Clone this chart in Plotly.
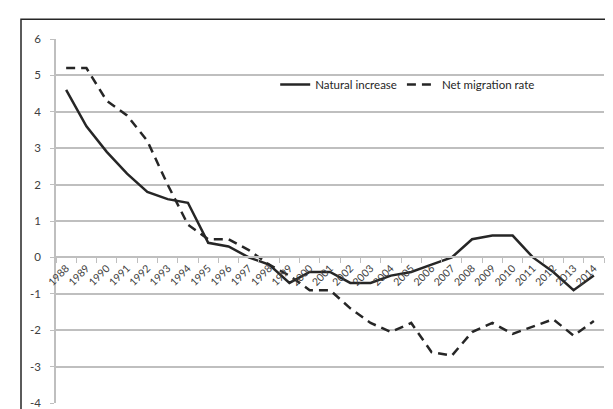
import plotly.graph_objects as go

years = [str(y) for y in range(1988, 2015)]
natural_increase = [4.6, 3.6, 2.9, 2.3, 1.8, 1.6, 1.5, 0.4, 0.3, 0.0, -0.2, -0.7, -0.4,
                    -0.4, -0.7, -0.7, -0.5, -0.4, -0.2, 0.0, 0.5, 0.6, 0.6, 0.0, -0.4, -0.9, -0.5]
net_migration = [5.2, 5.2, 4.3, 3.9, 3.2, 2.0, 0.9, 0.5, 0.5, 0.2, -0.2, -0.5, -0.9,
                 -0.9, -1.4, -1.8, -2.05, -1.8, -2.6, -2.7, -2.05, -1.8, -2.1, -1.9, -1.7, -2.15, -1.75]
y_ticks = [6, 5, 4, 3, 2, 1, 0, -1, -2, -3, -4]
y_tick_text = [str(v) for v in y_ticks]

font = "Lato, 'Open Sans', sans-serif"
line_col = "#262626"

fig = go.Figure()
fig.add_trace(go.Scatter(x=years, y=natural_increase, mode="lines", name="Natural increase",
                         line=dict(color=line_col, width=2.5)))
fig.add_trace(go.Scatter(x=years, y=net_migration, mode="lines", name="Net migration rate",
                         line=dict(color=line_col, width=2.5, dash="9px,6px")))

fig.update_layout(
    width=613, height=409,
    margin=dict(l=48, r=17, t=31, b=8),
    paper_bgcolor="white", plot_bgcolor="white",
    font=dict(family=font, size=11, color="#404040"),
    showlegend=True,
    legend=dict(orientation="h", x=0.40, y=0.875, xanchor="left", yanchor="middle",
                bgcolor="rgba(0,0,0,0)", font=dict(size=11.5, color="#262626"),
                itemwidth=30, tracegroupgap=0),
    xaxis=dict(type="category", anchor="free", position=0.4,
               showline=True, linecolor="#BFBFBF", linewidth=1.5,
               ticks="outside", ticklen=5, tickcolor="#BFBFBF", tickwidth=1,
               tickson="boundaries", tickangle=-45, showgrid=False,
               tickfont=dict(size=10.5, color="#404040"),
               range=[-0.5, len(years) - 0.5]),
    yaxis=dict(range=[-4, 6], tickvals=y_ticks, ticktext=y_tick_text,
               showgrid=True, gridcolor="#BFBFBF", gridwidth=1.5,
               showline=True, linecolor="#BFBFBF", linewidth=1.5, zeroline=False,
               ticks="outside", ticklen=4, tickcolor="#BFBFBF", ticklabelstandoff=7,
               tickfont=dict(size=11.5, color="#404040")),
    shapes=[dict(type="rect", xref="paper", yref="paper",
                 x0=(13 - 48) / 548, x1=1.2, y0=-0.2, y1=(401 - 11) / 370,
                 line=dict(color="#262626", width=1.5), fillcolor="rgba(0,0,0,0)", layer="below")],
)

fig.write_html("out.html")
